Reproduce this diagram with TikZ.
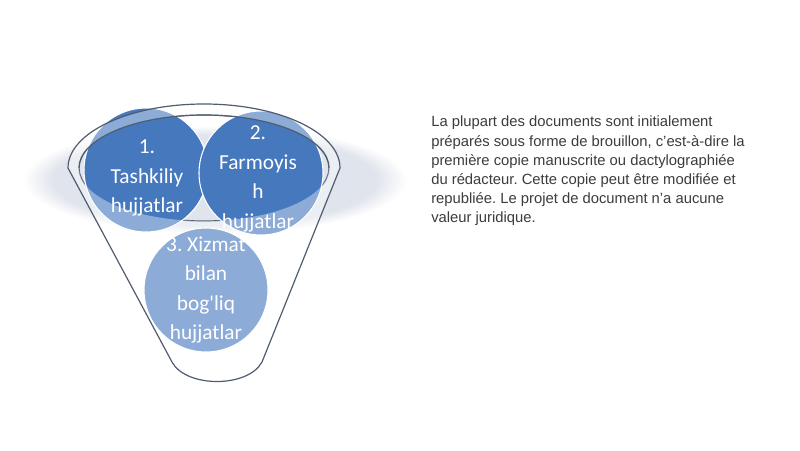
\documentclass[tikz,border=0pt]{standalone}
\usepackage{fontspec}
\setmainfont{Liberation Sans}
\newfontfamily\bubblefont{Carlito}
\usetikzlibrary{shapes,positioning,backgrounds}

\definecolor{rimgray}{RGB}{224,228,236}
\definecolor{bubbleblue}{RGB}{70,120,190}
\definecolor{funnelline}{RGB}{80,92,112}
\definecolor{notegray}{RGB}{60,60,60}
\pgfdeclareradialshading{rimglow}{\pgfpoint{0bp}{0bp}}{color(0bp)=(rimgray); color(21bp)=(rimgray); color(25bp)=(white); color(50bp)=(white)}

\begin{document}
\frenchspacing
\begin{tikzpicture}[x=0.75pt, y=-0.75pt,
    bubble/.style={circle, fill=bubbleblue, draw=white, line width=0.8pt, minimum size=93pt, inner sep=0pt},
    bubbletext/.style={align=center, text=white, inner sep=0pt, font=\bubblefont\fontsize{16}{22.2}\selectfont},
    rim/.style={draw=funnelline, line width=0.9pt},
    glass/.style={fill=white, fill opacity=0.38}
]
\useasboundingbox[fill=white] (0,0) rectangle (800,450);

% Glow behind the funnel opening
\shade[shading=rimglow] (215,180) ellipse[x radius=192, y radius=54];

% Inner rim (under the bubbles)
\draw[rim] (204,168) ellipse[x radius=125, y radius=53];

% Bubble 3
\node[bubble] (xizmat) at (206,290) {};
\node[bubbletext] (xizmat-text) at (xizmat) {3. Xizmat\\bilan\\bog'liq\\hujjatlar};

% Bubble 1
\node[bubble] (tashkiliy) at (146,170) {};
\node[bubbletext] (tashkiliy-text) at (147,178) {1.\\Tashkiliy\\hujjatlar};

% Bubble 2
\node[bubble] (farmoyish) at (261,173) {};
\node[bubbletext] (farmoyish-text) at (258,179) {2.\\Farmoyis\\h\\hujjatlar};

% Funnel glass and outline
\fill[glass, even odd rule] (340,168) arc[start angle=0, end angle=-180, x radius=136, y radius=64]
    -- (172,362) .. controls (186,388) and (248,388) .. (262,362) -- cycle
    (204,168) ellipse[x radius=125, y radius=53];
\draw[rim] (340,168) arc[start angle=0, end angle=-180, x radius=136, y radius=64]
    -- (172,362) .. controls (186,388) and (248,388) .. (262,362) -- cycle;
\draw[rim] (329,168) arc[start angle=0, end angle=-180, x radius=125, y radius=53];

% Description
\node[anchor=north west, align=left, inner sep=0pt, text=notegray, font=\fontsize{11.1}{14.4}\selectfont] (note) at (431,116) {%
La plupart des documents sont initialement\\
préparés sous forme de brouillon, c'est-à-dire la\\
première copie manuscrite ou dactylographiée\\
du rédacteur. Cette copie peut être modifiée et\\
republiée. Le projet de document n'a aucune\\
valeur juridique.};

\end{tikzpicture}
\end{document}
